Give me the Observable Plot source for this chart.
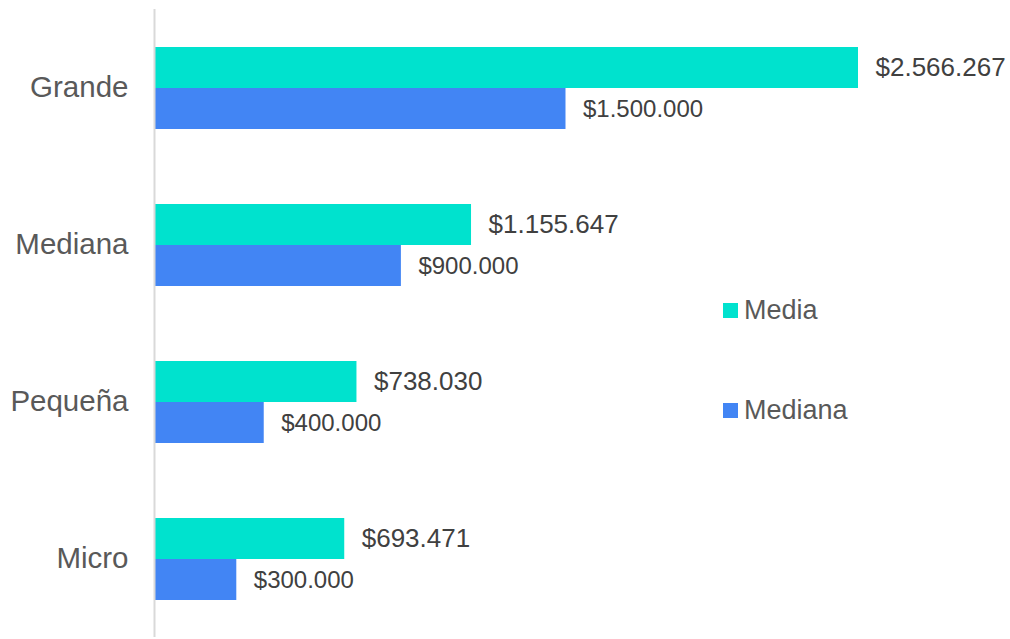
<!DOCTYPE html>
<html>
<head>
<meta charset="utf-8">
<script src="https://cdn.jsdelivr.net/npm/d3@7"></script>
<script src="https://cdn.jsdelivr.net/npm/@observablehq/plot@0.6"></script>
<style>
  html, body { margin: 0; padding: 0; background: #fff; }
  body { font-family: "Liberation Sans", Arial, sans-serif; }
  #wrap { position: relative; width: 1010px; height: 639px; }
  #legend { position: absolute; left: 723px; top: 294px; font-size: 27px; color: #595959; }
  .item { display: flex; align-items: center; height: 32px; }
  .item + .item { margin-top: 68px; }
  .sw { width: 15px; height: 15px; margin-right: 6px; }
</style>
</head>
<body>
<div id="wrap"><div id="legend"></div></div>
<script>
const categories = ["Grande", "Mediana", "Pequeña", "Micro"];
const series = ["Media", "Mediana"];
const mediaValues = [2566267, 1155647, 738030, 693471];
const medianaValues = [1500000, 900000, 400000, 300000];
const colors = ["#00E2CE", "#4285F4"];

const data = [];
categories.forEach((c, i) => {
  data.push({category: c, series: "Media", value: mediaValues[i]});
  data.push({category: c, series: "Mediana", value: medianaValues[i]});
});

const locale = d3.formatLocale({decimal: ",", thousands: ".", grouping: [3], currency: ["$", ""]});
const fmt = locale.format("$,.0f");

const chart = Plot.plot({
  width: 1010,
  height: 639,
  marginLeft: 154,
  marginRight: 152,
  marginTop: 8,
  marginBottom: 1,
  style: {fontFamily: "Liberation Sans, Arial, sans-serif", background: "#fff"},
  x: {axis: null, domain: [0, d3.max(mediaValues)]},
  y: {axis: null, domain: series, paddingInner: 0, paddingOuter: 0.88},
  fy: {domain: categories, padding: 0},
  color: {domain: series, range: colors},
  marks: [
    Plot.barX(data, {x: "value", y: "series", fy: "category", fill: "series"}),
    Plot.ruleX([0], {stroke: "#d9d9d9", strokeWidth: 2}),
    Plot.text(data.filter(d => d.series === "Media"), {
      x: "value", y: "series", fy: "category", text: d => fmt(d.value),
      textAnchor: "start", dx: 17, fontSize: 26, fill: "#404040"
    }),
    Plot.text(data.filter(d => d.series === "Mediana"), {
      x: "value", y: "series", fy: "category", text: d => fmt(d.value),
      textAnchor: "start", dx: 17, fontSize: 24, fill: "#404040"
    }),
    Plot.axisFy({anchor: "left", tickSize: 0, tickPadding: 26, fontSize: 29.5, label: null, fill: "#595959"})
  ]
});
document.getElementById("wrap").prepend(chart);

const legend = document.getElementById("legend");
series.forEach((s, i) => {
  const item = document.createElement("div");
  item.className = "item";
  const sw = document.createElement("div");
  sw.className = "sw";
  sw.style.background = colors[i];
  const t = document.createElement("span");
  t.textContent = s;
  item.appendChild(sw);
  item.appendChild(t);
  legend.appendChild(item);
});
</script>
</body>
</html>
